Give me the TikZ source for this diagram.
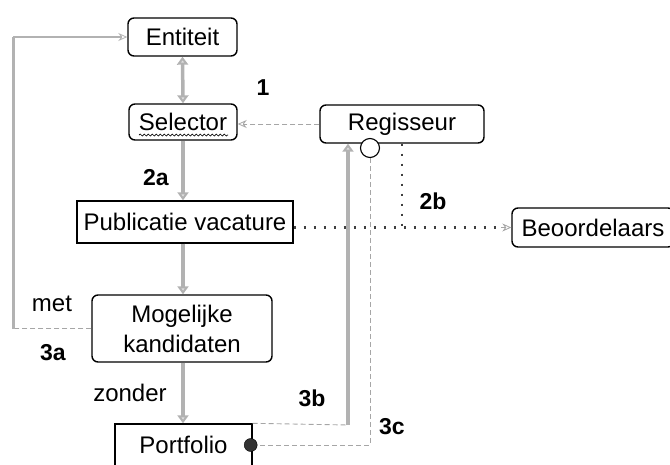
\documentclass[tikz,border=0pt]{standalone}
\usepackage{fontspec}
\setmainfont{Liberation Sans}
\usetikzlibrary{arrows.meta,decorations.pathmorphing}
\begin{document}
\begin{tikzpicture}[x=1pt,y=-1pt, font=\fontsize{24}{30}\selectfont,
  rbox/.style={draw, rounded corners=6pt, line width=1.4pt, inner sep=0pt, align=center},
  sbox/.style={draw, line width=1.4pt, inner sep=0pt, align=center},
  lab/.style={font=\fontsize{23}{26}\selectfont\bfseries},
  fathead/.tip={Triangle[length=8pt,width=11pt,fill=gray!25]},
  fat/.style={draw=gray!60, line width=3.5pt, -fathead},
  thindash/.style={draw=gray!70, line width=0.9pt, dash pattern=on 5pt off 3pt},
  dotline/.style={draw=gray!50!black, line width=2.5pt, dash pattern=on 2pt off 8pt},
  openhead/.tip={Stealth[open,length=9pt,width=8pt,line width=0.8pt]},
]
\useasboundingbox (0,0) rectangle (670,464);

% boxes
\node[rbox, minimum width=109pt, minimum height=38pt] (ent) at (182.5,37) {Entiteit};
\node[rbox, minimum width=108pt, minimum height=36pt] (sel) at (183,122) {Selector};
\node[rbox, minimum width=164pt, minimum height=38pt] (reg) at (402,124) {Regisseur};
\node[sbox, minimum width=216pt, minimum height=42pt] (pub) at (185,222) {Publicatie vacature};
\node[rbox, minimum width=162pt, minimum height=39pt] (beo) at (593,227.5) {Beoordelaars};
\node[rbox, minimum width=180pt, minimum height=67pt] (mog) at (182,328.5) {Mogelijke\\kandidaten};
\node[sbox, minimum width=137pt, minimum height=42pt] (port) at (183.5,445) {Portfolio};

% wavy underline under Selector
\draw[decorate, decoration={snake, amplitude=1pt, segment length=4pt}, line width=0.7pt]
  (139,135) -- (228,135);

% labels
\node[lab] (l1) at (263,88) {1};
\node[lab] (l2a) at (156,178) {2a};
\node[lab] (l2b) at (433,201) {2b};
\node (lmet) at (52,304) {met};
\node[lab] (l3a) at (53,353) {3a};
\node (lzon) at (130,393) {zonder};
\node[lab] (l3b) at (312,398) {3b};
\node[lab] (l3c) at (392,427) {3c};

% main vertical flow
\draw[fat, fathead-fathead] (ent.south) -- (sel.north);
\draw[fat] (sel.south) -- (sel.south |- pub.north);
\draw[fat] (sel.south |- pub.south) -- (sel.south |- mog.north);
\draw[fat] (sel.south |- mog.south) -- (sel.south |- port.north);

% 1: Regisseur -> Selector
\draw[thindash, -openhead] (reg.west) -- (reg.west -| sel.east);

% 3a: Mogelijke kandidaten -> Entiteit
\coordinate (c3a) at (13,325);
\draw[thindash] (mog.west) -- (mog.west -| c3a);
\draw[draw=gray!60, line width=3pt] (mog.west -| c3a) -- (c3a |- ent.west);
\draw[draw=gray!60, line width=2pt, -openhead] (c3a |- ent.west) -- (ent.west);

% 2b: Regisseur -> Publicatie / Beoordelaars
\draw[dotline] (reg.south) -- (reg.south |- beo.west);
\draw[dotline] (pub.east |- beo.west) -- ([xshift=-8pt]beo.west);
\draw[draw=gray!70, line width=0.8pt, -openhead] ([xshift=-10pt]beo.west) -- (beo.west);

% 3b: Portfolio -> Regisseur
\coordinate (c3b) at (348,425);
\draw[thindash] (port.north east) -- (c3b);
\draw[fat] (c3b) -- (c3b |- reg.south);

% 3c: Regisseur -> Portfolio (ball and socket)
\node[circle, draw, fill=white, minimum size=19pt, inner sep=0pt, line width=1.1pt] (sock) at (370,148) {};
\draw[thindash] (sock.south) -- (sock.south |- port.east) -- (port.east);
\node[circle, draw=black, fill=gray!40!black, minimum size=13pt, inner sep=0pt] (ball) at ([xshift=-2pt]port.east) {};
\end{tikzpicture}
\end{document}
